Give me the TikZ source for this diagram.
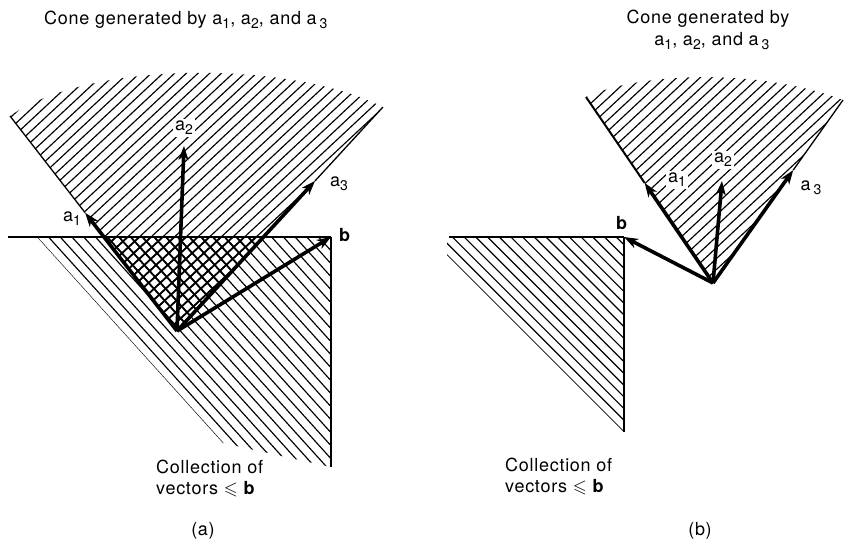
\documentclass[tikz,border=0pt]{standalone}
\usepackage{amssymb}
\usepackage{fontspec}
\setmainfont[LetterSpace=4]{TeX Gyre Heros}
\usetikzlibrary{arrows.meta,calc}
\newcommand{\ssub}[1]{\raisebox{-0.45ex}{\scalebox{0.78}{#1}}}
\begin{document}
\begin{tikzpicture}[x=1pt,y=-1pt,
  hatch/.style={line width=1.15pt},
  xhatch/.style={line width=1.8pt},
  vec/.style={line width=3.6pt,-{Stealth[length=14pt,width=10pt,inset=4pt]}},
  edge/.style={line width=1.3pt},
  bound/.style={line width=2pt},
  lab/.style={font=\fontsize{18}{20}\selectfont,inner sep=1pt},
  wlab/.style={lab,fill=white,inner sep=2pt}]
\useasboundingbox (0,0) rectangle (844,539);
% ---------------- panel (a) ----------------
\coordinate (Oa) at (177,331);
\coordinate (La) at (10,116);
\coordinate (Ra) at (383,107);
\coordinate (Ba) at (331,237);
\coordinate (A1a) at ($(Oa)!0.55!(La)$);
\coordinate (A2a) at (184,146);
\coordinate (A3a) at ($(Oa)!0.67!(Ra)$);
\coordinate (Ha) at (8,237);
\coordinate (Va) at (331,467);
% cone hatch
\begin{scope}
  \clip (Oa) -- (La) .. controls (90,60) and (290,60) .. (Ra) -- cycle;
  \foreach \i in {0,...,66} {
    \pgfmathsetmacro\c{40+10.9*\i}
    \draw[hatch] (0,\c) -- (420,{\c-420*0.933});
  }
\end{scope}
% lower region hatch
\begin{scope}
  \clip (37,237) -- (Ba) -- (Va) -- (223,443) -- cycle;
  \foreach \i in {-27,...,1} {
    \pgfmathsetmacro\c{196.3+13*\i}
    \draw[hatch] (0,\c) -- (420,{\c+420*1.107});
  }
\end{scope}
% cross hatch
\begin{scope}
  \clip (Oa) -- ($(Oa)!0.4346!(La)$) -- ($(Oa)!0.417!(Ra)$) -- cycle;
  \foreach \i in {0,...,66} {
    \pgfmathsetmacro\c{40+10.9*\i}
    \draw[xhatch] (0,\c) -- (420,{\c-420*0.933});
  }
  \foreach \i in {-27,...,1} {
    \pgfmathsetmacro\c{196.3+13*\i}
    \draw[xhatch] (0,\c) -- (420,{\c+420*1.107});
  }
\end{scope}
\draw[bound] (Ha) -- (Ba);
\draw[line width=2.4pt] (Ba) -- (Va);
\draw[edge] (A1a) -- (La);
\draw[edge] (A3a) -- (Ra);
\draw[vec] (Oa) -- (A1a);
\draw[vec] (Oa) -- (A2a);
\draw[vec] (Oa) -- (A3a);
\draw[vec] (Oa) -- (Ba);
\node[lab] (la1) at (72,219) {a\ssub{1}};
\node[wlab] (la2) at (184,128) {a\ssub{2}};
\node[lab] (la3) at (339,184) {a\ssub{3}};
\node[lab] (lba) at (345,235) {\textbf{b}};
\node[lab,anchor=west] (ta) at (43,20) {Cone generated by a\ssub{1}, a\ssub{2}, and a\,\ssub{3}};
\node[lab,anchor=west] (ca1) at (155,467) {Collection of};
\node[lab,anchor=west] (ca2) at (155,489) {vectors $\leqslant$ \textbf{b}};
\node[lab] (pa) at (203,531) {(a)};
% ---------------- panel (b) ----------------
\coordinate (Ob) at (713,283);
\coordinate (Lb) at (586,97);
\coordinate (Rb) at (843,100);
\coordinate (Bb) at (624,237);
\coordinate (A1b) at ($(Ob)!0.538!(Lb)$);
\coordinate (A2b) at (722,181);
\coordinate (A3b) at ($(Ob)!0.617!(Rb)$);
\coordinate (Hb) at (449,237);
\coordinate (Vb) at (624,432);
\begin{scope}
  \clip (Ob) -- (Lb) .. controls (640,72) and (760,68) .. (Rb) -- cycle;
  \foreach \i in {0,...,46} {
    \pgfmathsetmacro\c{600+10.9*\i}
    \draw[hatch] (560,{\c-560*0.933}) -- (850,{\c-850*0.933});
  }
\end{scope}
\begin{scope}
  \clip (447,237) -- (Bb) -- (Vb) -- (447,255) -- cycle;
  \foreach \i in {-20,...,0} {
    \pgfmathsetmacro\c{-192+11.7*\i}
    \draw[hatch] (440,{\c+440}) -- (640,{\c+640});
  }
\end{scope}
\draw[bound] (Hb) -- (Bb);
\draw[line width=2.4pt] (Bb) -- (Vb);
\draw[line width=2pt] (A1b) -- (Lb);
\draw[edge] (A3b) -- (Rb);
\draw[vec] (Ob) -- (A1b);
\draw[vec] (Ob) -- (A2b);
\draw[vec] (Ob) -- (A3b);
\draw[vec] (Ob) -- (Bb);
\node[wlab] (lb1) at (677,180) {a\ssub{1}};
\node[wlab] (lb2) at (723,160) {a\ssub{2}};
\node[lab] (lb3) at (811,188) {a\,\ssub{3}};
\node[lab] (lbb) at (622,223) {\textbf{b}};
\node[lab] (tb1) at (708,19) {Cone generated by};
\node[lab] (tb2) at (712,41) {a\ssub{1}, a\ssub{2}, and a\,\ssub{3}};
\node[lab,anchor=west] (cb1) at (504,465) {Collection of};
\node[lab,anchor=west] (cb2) at (504,487) {vectors $\leqslant$ \textbf{b}};
\node[lab] (pb) at (700,531) {(b)};
\end{tikzpicture}
\end{document}
